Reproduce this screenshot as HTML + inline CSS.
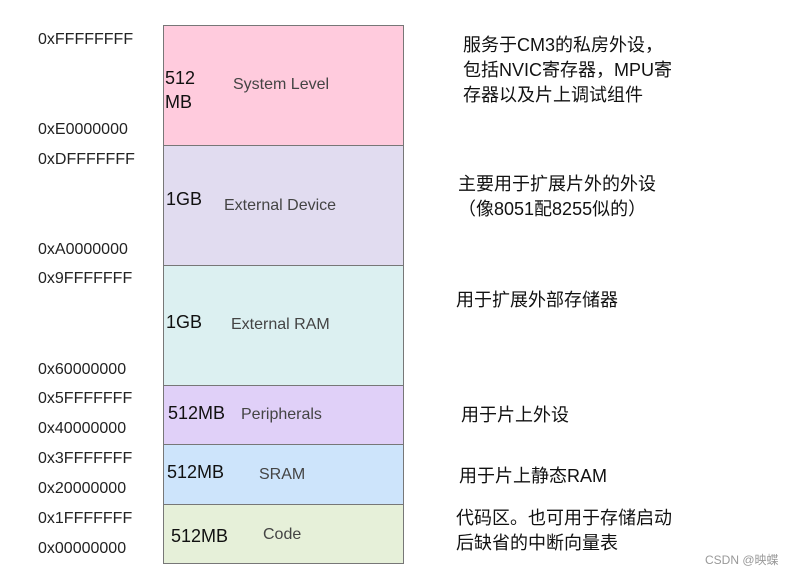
<html><head><style>
body{margin:0;width:801px;height:576px;background:#fff;position:relative;font-family:"Liberation Sans","Noto Sans CJK SC",sans-serif;overflow:hidden}
.a{position:absolute;left:38px;font-size:16px;color:#222;line-height:18px}
.b{position:absolute;left:163px;width:241px;border:1px solid #777;box-sizing:border-box}
.s{position:absolute;font-size:18px;color:#111;line-height:24px}
.l{position:absolute;font-size:16px;color:#444;line-height:20px}
.c{position:absolute;font-size:18px;color:#111;line-height:25px;white-space:nowrap}
</style></head><body>
<div class="b" style="top:25px;height:121px;background:#ffcbdd"></div>
<div class="b" style="top:145px;height:121px;background:#e1dcf0"></div>
<div class="b" style="top:265px;height:121px;background:#dcf0f1"></div>
<div class="b" style="top:385px;height:60px;background:#e0d0f8"></div>
<div class="b" style="top:444px;height:61px;background:#cde4fb"></div>
<div class="b" style="top:504px;height:60px;background:#e6f0d9"></div>

<div class="a" style="top:31px">0xFFFFFFFF</div>
<div class="a" style="top:121px">0xE0000000</div>
<div class="a" style="top:151px">0xDFFFFFFF</div>
<div class="a" style="top:241px">0xA0000000</div>
<div class="a" style="top:270px">0x9FFFFFFF</div>
<div class="a" style="top:361px">0x60000000</div>
<div class="a" style="top:390px">0x5FFFFFFF</div>
<div class="a" style="top:420px">0x40000000</div>
<div class="a" style="top:450px">0x3FFFFFFF</div>
<div class="a" style="top:480px">0x20000000</div>
<div class="a" style="top:510px">0x1FFFFFFF</div>
<div class="a" style="top:540px">0x00000000</div>

<div class="s" style="left:165px;top:66px">512<br>MB</div>
<div class="s" style="left:166px;top:187px">1GB</div>
<div class="s" style="left:166px;top:310px">1GB</div>
<div class="s" style="left:168px;top:401px">512MB</div>
<div class="s" style="left:167px;top:460px">512MB</div>
<div class="s" style="left:171px;top:524px">512MB</div>

<div class="l" style="left:233px;top:75px">System Level</div>
<div class="l" style="left:224px;top:196px">External Device</div>
<div class="l" style="left:231px;top:315px">External RAM</div>
<div class="l" style="left:241px;top:405px">Peripherals</div>
<div class="l" style="left:259px;top:465px">SRAM</div>
<div class="l" style="left:263px;top:525px">Code</div>

<div class="c" style="left:463px;top:33px">服务于CM3的私房外设，<br>包括NVIC寄存器，MPU寄<br>存器以及片上调试组件</div>
<div class="c" style="left:458px;top:172px">主要用于扩展片外的外设<br>（像8051配8255似的）</div>
<div class="c" style="left:456px;top:288px">用于扩展外部存储器</div>
<div class="c" style="left:461px;top:403px">用于片上外设</div>
<div class="c" style="left:459px;top:464px">用于片上静态RAM</div>
<div class="c" style="left:456px;top:506px">代码区。也可用于存储启动<br>后缺省的中断向量表</div>
<div style="position:absolute;left:705px;top:551px;font-size:12px;color:#999">CSDN @映蝶</div>
</body></html>
